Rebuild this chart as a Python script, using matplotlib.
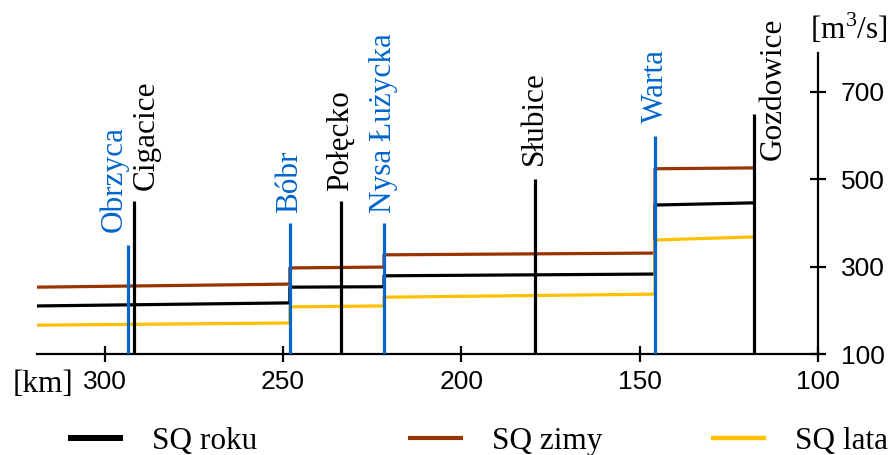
import matplotlib.pyplot as plt

plt.rcParams['font.family'] = ['Liberation Serif', 'DejaVu Serif']
plt.rcParams['mathtext.fontset'] = 'custom'
plt.rcParams['mathtext.rm'] = 'Liberation Serif'

# stations / tributary mouths along the river
stations = ['Obrzyca', 'Cigacice', 'Bóbr', 'Połęcko', 'Nysa Łużycka', 'Słubice', 'Warta', 'Gozdowice']
station_km = [293.5, 291.9, 248.1, 233.8, 221.7, 179.4, 145.7, 117.9]
station_top = [350, 450, 400, 450, 400, 500, 600, 650]
is_tributary = [True, False, True, False, True, False, True, False]

# segment breaks (km) and flow at start / end of each segment [m3/s]
seg_km = [319, 248.1, 221.7, 145.7, 117.9]
sq_roku = [(210, 217), (253, 254), (279, 283), (441, 446)]
sq_zimy = [(253, 260), (297, 299), (327, 331), (524, 526)]
sq_lata = [(166, 171), (208, 210), (230, 237), (361, 368)]

x_ticks = [300, 250, 200, 150, 100]
y_ticks = [100, 300, 500, 700]

blue = '#0066CC'
series = [('SQ roku', sq_roku, 'black'),
          ('SQ zimy', sq_zimy, '#993300'),
          ('SQ lata', sq_lata, '#FFC000')]

# label offsets in points (dx, dy) from the top of each line
label_off = {'Obrzyca': (-10, 9), 'Cigacice': (9, 8), 'Gozdowice': (14, -33),
             'Słubice': (0, 10), 'Warta': (0, 9)}


def segs_to_line(vals):
    xs, ys = [], []
    for i, (a, b) in enumerate(vals):
        xs += [seg_km[i], seg_km[i + 1]]
        ys += [a, b]
    return xs, ys


fig = plt.figure(figsize=(8.93, 4.55), dpi=100)
ax = fig.add_axes([37 / 893, 1 - 354 / 455, (818 - 37) / 893, (354 - 53) / 455])

lines = []
for name, vals, col in series:
    xs, ys = segs_to_line(vals)
    l, = ax.plot(xs, ys, color=col, lw=2.3, label=name, zorder=2, solid_capstyle='butt')
    lines.append(l)

for name, km, top, trib in zip(stations, station_km, station_top, is_tributary):
    col = blue if trib else 'black'
    ax.plot([km, km], [100, top], color=col, lw=2.3, zorder=3, solid_capstyle='butt')
    dx, dy = label_off.get(name, (0, 7))
    ax.annotate(name, xy=(km, top), xytext=(dx, dy), textcoords='offset points',
                rotation=90, ha='center', va='bottom', fontsize=22.5, color=col)

ax.set_xlim(319, 100)
ax.set_ylim(100, 789)
ax.set_xticks(x_ticks)
ax.set_yticks(y_ticks)
ax.yaxis.tick_right()
for s in ['top', 'left']:
    ax.spines[s].set_visible(False)
for s in ['bottom', 'right']:
    ax.spines[s].set_linewidth(1.6)
ax.tick_params(axis='both', direction='inout', length=11, width=1.6,
               labelsize=19, labelfontfamily='Liberation Sans')
ax.tick_params(axis='x', pad=6)
ax.tick_params(axis='y', pad=11)
ax.set_facecolor('none')

fig.text(13 / 893, 1 - 385 / 455, '[km]', ha='left', va='center', fontsize=22.5)
fig.text(849 / 893, 1 - 29 / 455, '[m$^3$/s]', ha='center', va='center', fontsize=22.5)

# legend entries placed at fixed spots along the bottom
legend_x = [68 / 893, 408 / 893, 711 / 893]
legend_lw = [4.3, 3.0, 3.2]
for l, xpos, lw in zip(lines, legend_x, legend_lw):
    leg = fig.legend(handles=[l], loc='center left', bbox_to_anchor=(xpos, 1 - 441 / 455),
                     frameon=False, fontsize=22.5, handlelength=1.76, handletextpad=0.93,
                     borderpad=0, borderaxespad=0)
    leg.get_lines()[0].set_linewidth(lw)

fig.savefig('out.png', dpi=100, facecolor='white')
